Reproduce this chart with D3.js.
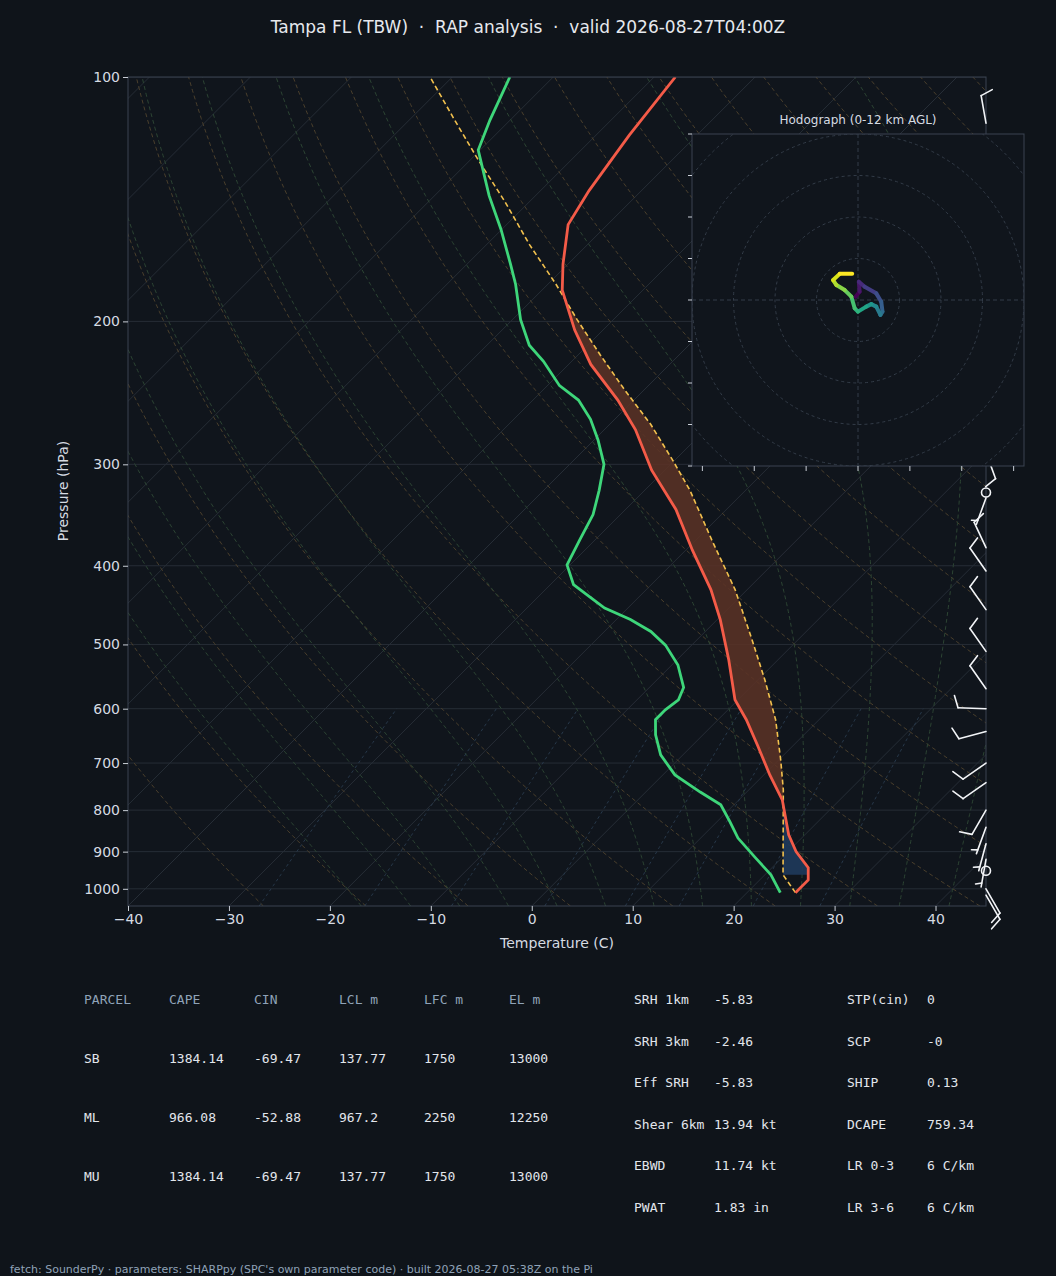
<!DOCTYPE html>
<html><head><meta charset="utf-8">
<script src="https://cdn.jsdelivr.net/npm/d3@7"></script>
<style>
body{margin:0;background:#0f141a;}
text{font-family:"DejaVu Sans",sans-serif;}
.mono{font-family:"DejaVu Sans Mono",monospace;font-size:13px;}
</style></head><body>
<svg id="c" width="1056" height="1276"></svg>
<script>
// sounding profiles (pressure hPa, temperature C)
var tempP = [1011,975,942,900,858,777,724,665,619,585,522,466,428,383,341,305,272,250,226,205,183,170,152,138,118,100];
var tempT = [24.8,24.8,23.6,20.8,18.4,14.3,10.6,6.4,2.8,-0.3,-4.9,-9.7,-13.6,-19.3,-25,-31.3,-36.9,-41.6,-47.8,-52.8,-58,-60.5,-63.9,-65.2,-66.7,-67.9];
var dewP = [1011,961,916,866,827,788,760,724,684,646,619,602,585,565,530,501,482,466,451,438,422,399,372,346,323,300,280,264,250,240,224,214,199,180,170,154,140,123,113,100];
var dewT = [23.3,20.6,17.4,13.7,11.3,8.7,5.4,1.2,-2.2,-4.7,-6.2,-6.2,-5.9,-6.6,-9.4,-12.6,-15.4,-18.6,-22.3,-24.7,-27.7,-30.3,-31.5,-32.7,-34.5,-36.6,-39.6,-42.4,-45.5,-48.8,-52.8,-55.8,-59.2,-63.2,-65.7,-70.1,-74.6,-80.2,-82,-84.3];
var parcelP = [1011,961,755,694,619,553,494,428,372,323,296,268,243,220,199,180,161,142,127,113,100];
var parcelT = [24.8,21.8,13.4,10.2,5.7,0.7,-4.5,-11.2,-18.4,-25.5,-30.3,-35.9,-41.9,-47.8,-53.6,-59.2,-65.7,-72.6,-79,-85.5,-92.2];
// winds (pressure hPa, direction deg, speed kt)
var windP = [1018,1000,950,920,880,840,800,740,700,640,600,567,510,453,406,380,330,325,290,114];
var windDir = [150,150,0,190,195,200,210,235,235,255,272,325,325,325,325,335,200,0,160,350];
var windSpd = [10,10,0,5,5,5,10,10,10,10,10,10,10,10,10,10,5,0,10,10];
// hodograph (u, v kt), 0-12 km
var hodoU = [-0.6,0.4,0.2,1.6,4.4,5.6,5.9,5.4,4.4,3.2,2.0,0,-0.8,-1.6,-3.2,-5.2,-6.0,-4.4,-1.4];
var hodoV = [0.8,2.0,4.4,3.2,1.6,-0.4,-2.8,-3.6,-1.6,-1.0,-1.6,-2.8,-2.0,0.8,2.4,3.6,4.8,6.3,6.3];
// parameter table
var parcelHead = ["PARCEL","CAPE","CIN","LCL m","LFC m","EL m"];
var parcelRows = [["SB","1384.14","-69.47","137.77","1750","13000"],
                  ["ML","966.08","-52.88","967.2","2250","12250"],
                  ["MU","1384.14","-69.47","137.77","1750","13000"]];
var paramsA = [["SRH 1km","-5.83"],["SRH 3km","-2.46"],["Eff SRH","-5.83"],["Shear 6km","13.94 kt"],["EBWD","11.74 kt"],["PWAT","1.83 in"]];
var paramsB = [["STP(cin)","0"],["SCP","-0"],["SHIP","0.13"],["DCAPE","759.34"],["LR 0-3","6 C/km"],["LR 3-6","6 C/km"]];
var tTicks = [-40,-30,-20,-10,0,10,20,30,40];
var pTicks = [100,200,300,400,500,600,700,800,900,1000];

var svg = d3.select("#c");
var L=128,R=986,T=77,B=906;
var x = d3.scaleLinear().domain([-40,45]).range([L,R]);
var y = d3.scaleLog().domain([1050,100]).range([B,T]);
function sx(t,p){ return x(t) + (B - y(p)); }
var axisCol="#3a4350", txtCol="#d6dbe2";

svg.append("text").attr("x",528).attr("y",33).attr("text-anchor","middle")
  .attr("fill","#e6e9ee").attr("font-size",17)
  .text("Tampa FL (TBW)  ·  RAP analysis  ·  valid 2026-08-27T04:00Z").style("white-space","pre");

svg.append("clipPath").attr("id","pc").append("rect").attr("x",L).attr("y",T).attr("width",R-L).attr("height",B-T);
var g = svg.append("g").attr("clip-path","url(#pc)");
g.append("rect").attr("x",L).attr("y",T).attr("width",R-L).attr("height",B-T).attr("fill","#10151c");

var pLevels = d3.range(0,61).map(function(i){ return 1050*Math.pow(100/1050,i/60); });
var lineTP = d3.line().x(function(d){return sx(d[0],d[1]);}).y(function(d){return y(d[1]);});

// isobars
pTicks.forEach(function(p){
  g.append("line").attr("x1",L).attr("x2",R).attr("y1",y(p)).attr("y2",y(p)).attr("stroke","#262d36").attr("stroke-width",1);
});
// isotherms
d3.range(-150,60,10).forEach(function(t){
  g.append("path").attr("d",lineTP([[t,1050],[t,100]])).attr("stroke","#262d36").attr("fill","none");
});
// dry adiabats
d3.range(-30,200,10).forEach(function(th){
  var pts = pLevels.map(function(p){ return [(th+273.15)*Math.pow(p/1000,0.2857)-273.15,p]; });
  g.append("path").attr("d",lineTP(pts)).attr("stroke","#4a3f2c").attr("stroke-dasharray","4,3").attr("fill","none").attr("stroke-width",1);
});
// moist adiabats
function es(t){ return 6.112*Math.exp(17.67*t/(t+243.5)); }
d3.range(-20,45,5).forEach(function(t0){
  var pts=[], t=t0+273.15, p=1050;
  var tt=t0; // start at 1000 reference
  // integrate down to 1050 then up
  var Tk=t0+273.15, pp=1000;
  function dTdp(Tk,pp){ var rs=0.622*es(Tk-273.15)/(pp-es(Tk-273.15));
    return (287*Tk+2.5e6*rs)/(1004+2.5e6*2.5e6*rs*0.622/(287*Tk*Tk))/pp; }
  var Tb=Tk; for(var q=1000;q<1050;q+=5){ Tb+=dTdp(Tb,q)*5; }
  Tk=Tb; pp=1050;
  while(pp>=100){ pts.push([Tk-273.15,pp]); Tk-=dTdp(Tk,pp)*5; pp-=5; }
  g.append("path").attr("d",lineTP(pts)).attr("stroke","#2c4433").attr("stroke-dasharray","4,3").attr("fill","none");
});
// mixing ratio
[0.4,1,2,4,7,10,16,24].forEach(function(w){
  var pts = d3.range(1050,595,-10).map(function(p){ var e=w*p/(622+w), l=Math.log(e/6.112); return [243.5*l/(17.67-l),p]; });
  g.append("path").attr("d",lineTP(pts)).attr("stroke","#27384a").attr("stroke-dasharray","3,3").attr("fill","none");
});

// interpolation in log p
function interp(P,Tv,p){
  for(var i=0;i<P.length-1;i++){
    if(p<=P[i] && p>=P[i+1]){ var f=Math.log(P[i]/p)/Math.log(P[i]/P[i+1]); return Tv[i]+f*(Tv[i+1]-Tv[i]); }
  }
  return NaN;
}
var fillP = d3.range(0,401).map(function(i){ return 961*Math.pow(100/961,i/400); });
var fd = fillP.map(function(p){ return {p:p,e:interp(tempP,tempT,p),a:interp(parcelP,parcelT,p)}; });
var area = d3.area().y(function(d){return y(d.p);});
g.append("path").datum(fd).attr("fill","#5c3226").attr("fill-opacity",0.85)
  .attr("d",area.defined(function(d){return d.a>=d.e && d.p<800;}).x0(function(d){return sx(d.e,d.p);}).x1(function(d){return sx(d.a,d.p);}));
g.append("path").datum(fd).attr("fill","#1f3a5c").attr("fill-opacity",0.9)
  .attr("d",area.defined(function(d){return d.a<d.e && d.p>700;}).x0(function(d){return sx(d.a,d.p);}).x1(function(d){return sx(d.e,d.p);}));

function prof(P,Tv){ return P.map(function(p,i){return [Tv[i],p];}); }
g.append("path").attr("d",lineTP(prof(parcelP,parcelT))).attr("stroke","#f2c14e").attr("stroke-width",1.6).attr("stroke-dasharray","5,3").attr("fill","none");
g.append("path").attr("d",lineTP(prof(tempP,tempT))).attr("stroke","#f45b48").attr("stroke-width",2.8).attr("fill","none");
g.append("path").attr("d",lineTP(prof(dewP,dewT))).attr("stroke","#3ed67a").attr("stroke-width",2.8).attr("fill","none");

svg.append("rect").attr("x",L).attr("y",T).attr("width",R-L).attr("height",B-T).attr("fill","none").attr("stroke",axisCol);

// axes
var xa = svg.append("g").attr("transform","translate(0,"+B+")")
  .call(d3.axisBottom(x).tickValues(tTicks).tickFormat(function(d){return String(d).replace("-","\u2212");}).tickSize(5));
var ya = svg.append("g").attr("transform","translate("+L+",0)")
  .call(d3.axisLeft(y).tickValues(pTicks).tickFormat(d3.format("d")).tickSize(5));
[xa,ya].forEach(function(a){
  a.select(".domain").remove();
  a.selectAll("line").attr("stroke","#c9ced6");
  a.selectAll("text").attr("fill",txtCol).attr("font-size",14).attr("font-family","DejaVu Sans");
});
svg.append("text").attr("x",557).attr("y",948).attr("text-anchor","middle").attr("fill",txtCol).attr("font-size",14).text("Temperature (C)");
svg.append("text").attr("transform","translate(68,491) rotate(-90)").attr("text-anchor","middle").attr("fill",txtCol).attr("font-size",14).text("Pressure (hPa)");

// wind barbs
var bg = svg.append("g").attr("stroke","#f2f4f7").attr("stroke-width",1.6).attr("fill","none").attr("stroke-linecap","round");
windP.forEach(function(p,i){
  var x0=R, y0=y(p), s=windSpd[i], d=windDir[i]*Math.PI/180;
  if(s<2.5){ bg.append("circle").attr("cx",x0).attr("cy",y0).attr("r",4.5); return; }
  var len=28, ux=Math.sin(d), uy=-Math.cos(d);
  var ex=x0+ux*len, ey=y0+uy*len;
  bg.append("line").attr("x1",x0).attr("y1",y0).attr("x2",ex).attr("y2",ey);
  // barbs perpendicular (clockwise side)
  var px=-uy, py=ux, bl=12, pos=0, rem=Math.round(s/5)*5;
  while(rem>=10){ var bx=ex-ux*pos, by=ey-uy*pos;
    bg.append("line").attr("x1",bx).attr("y1",by).attr("x2",bx+px*bl+ux*4).attr("y2",by+py*bl+uy*4); rem-=10; pos+=4; }
  if(rem>=5){ if(pos===0) pos=4; var bx2=ex-ux*pos, by2=ey-uy*pos;
    bg.append("line").attr("x1",bx2).attr("y1",by2).attr("x2",bx2+px*bl/2+ux*2).attr("y2",by2+py*bl/2+uy*2); }
});

// hodograph
var hx=692,hy=134,hs=332, hc=[hx+hs/2,hy+hs/2];
var hk = d3.scaleLinear().domain([-40,40]).range([0,hs]);
var hg = svg.append("g");
hg.append("rect").attr("x",hx).attr("y",hy).attr("width",hs).attr("height",hs).attr("fill","#10151c").attr("stroke",axisCol);
[10,20,30,40,50].forEach(function(r){
  hg.append("circle").attr("cx",hc[0]).attr("cy",hc[1]).attr("r",hk(r)-hk(0)).attr("fill","none").attr("stroke","#333c48").attr("stroke-dasharray","3,3");
});
hg.append("line").attr("x1",hx).attr("x2",hx+hs).attr("y1",hc[1]).attr("y2",hc[1]).attr("stroke","#333c48").attr("stroke-dasharray","4,3");
hg.append("line").attr("y1",hy).attr("y2",hy+hs).attr("x1",hc[0]).attr("x2",hc[0]).attr("stroke","#333c48").attr("stroke-dasharray","4,3");
// clip for ring overflow
svg.append("clipPath").attr("id","hc").append("rect").attr("x",hx).attr("y",hy).attr("width",hs).attr("height",hs);
hg.selectAll("circle").attr("clip-path","url(#hc)");
d3.range(-40,41,10).forEach(function(v){
  hg.append("line").attr("x1",hx-4).attr("x2",hx).attr("y1",hy+hs-hk(v)).attr("y2",hy+hs-hk(v)).attr("stroke","#c9ced6");
});
d3.range(-37.5,41,12.5).forEach(function(u){
  hg.append("line").attr("x1",hx+hk(u)).attr("x2",hx+hk(u)).attr("y1",hy+hs).attr("y2",hy+hs+5).attr("stroke","#c9ced6");
});
for(var i=0;i<hodoU.length-1;i++){
  hg.append("line").attr("x1",hx+hk(hodoU[i])).attr("y1",hy+hs-hk(hodoV[i]))
    .attr("x2",hx+hk(hodoU[i+1])).attr("y2",hy+hs-hk(hodoV[i+1]))
    .attr("stroke",d3.interpolateViridis(i/(hodoU.length-2))).attr("stroke-width",4).attr("stroke-linecap","round");
}
hg.append("text").attr("x",hc[0]).attr("y",124).attr("text-anchor","middle").attr("fill",txtCol).attr("font-size",12).text("Hodograph (0-12 km AGL)");

// table
var tc=[84,169,254,339,424,509];
parcelHead.forEach(function(h,j){ svg.append("text").attr("class","mono").attr("x",tc[j]).attr("y",1004).attr("fill","#8fa3b8").text(h); });
parcelRows.forEach(function(r,i){ r.forEach(function(v,j){
  svg.append("text").attr("class","mono").attr("x",tc[j]).attr("y",1063+i*59).attr("fill","#e2e6ec").text(v); }); });
[[paramsA,634,714],[paramsB,847,927]].forEach(function(c){
  c[0].forEach(function(r,i){
    svg.append("text").attr("class","mono").attr("x",c[1]).attr("y",1004+i*41.5).attr("fill","#e2e6ec").text(r[0]);
    svg.append("text").attr("class","mono").attr("x",c[2]).attr("y",1004+i*41.5).attr("fill","#e2e6ec").text(r[1]);
  });
});
svg.append("text").attr("x",10).attr("y",1273).attr("fill","#8fa3b8").attr("font-size",11)
  .text("fetch: SounderPy · parameters: SHARPpy (SPC's own parameter code) · built 2026-08-27 05:38Z on the Pi");
</script></body></html>
